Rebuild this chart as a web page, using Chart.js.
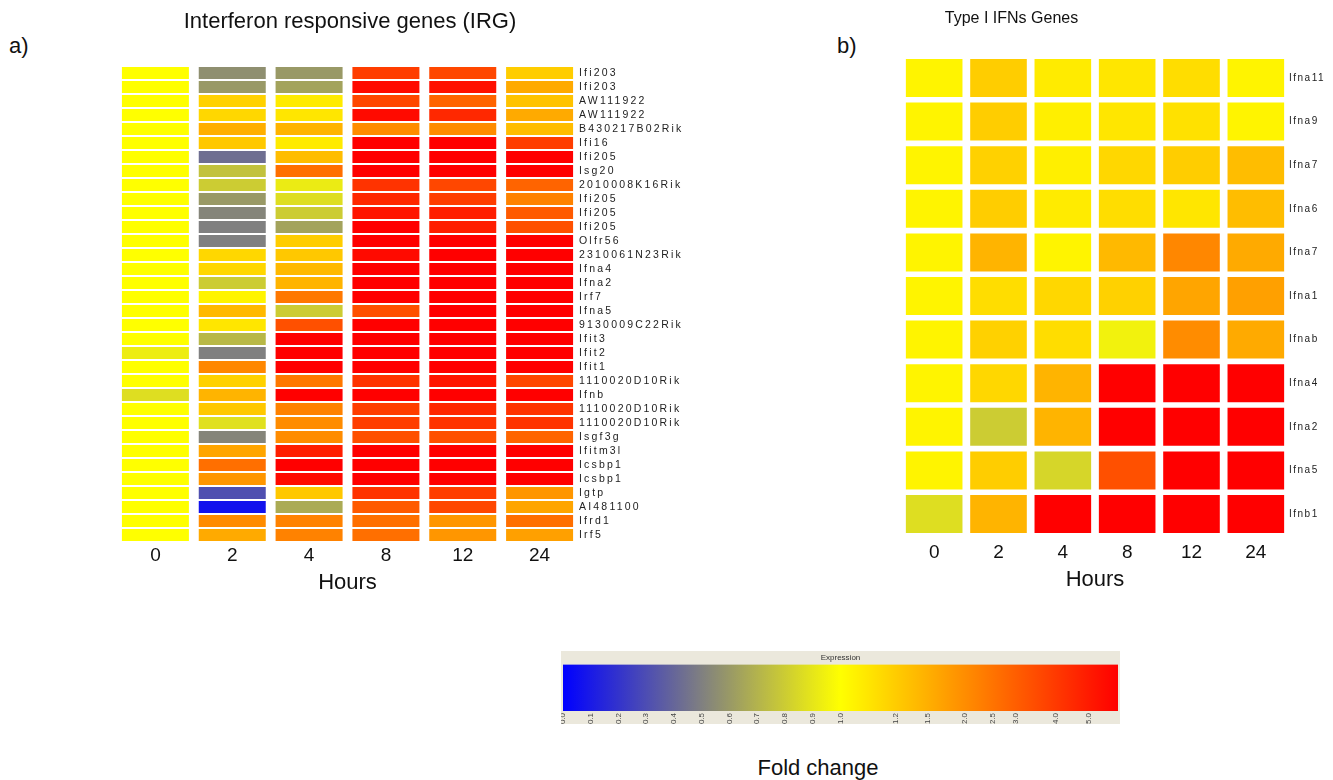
<!DOCTYPE html>
<html>
<head>
<meta charset="utf-8">
<title>IRG and type I IFN heatmaps</title>
<script src="https://cdn.jsdelivr.net/npm/chart.js@4.4.0/dist/chart.umd.min.js"></script>
<style>
  body { margin: 0; background: #fff; font-family: "Liberation Sans", Arial, sans-serif; }
  #page { position: relative; width: 1333px; height: 780px; overflow: hidden; }
  #page canvas { position: absolute; }
  .lbl { position: absolute; font-size: 22px; color: #111; }
  #scaleBox { position: absolute; left: 561px; top: 651px; width: 559px; height: 73px; background: #ebe8dc; }
  #scaleBox canvas { left: 0; top: 0; }
</style>
</head>
<body>
<div id="page">
  <div class="lbl" style="left:9px; top:33px;">a)</div>
  <div class="lbl" style="left:837px; top:33px;">b)</div>
  <canvas id="irg" width="700" height="600" style="left:0; top:0;"></canvas>
  <canvas id="ifn" width="643" height="600" style="left:690px; top:0;"></canvas>
  <div id="scaleBox"><canvas id="scale" width="559" height="73"></canvas></div>
  <div class="lbl" style="left:718px; top:755px; width:200px; text-align:center;">Fold change</div>
</div>
<script>
Chart.defaults.font.family = '"Liberation Sans", Arial, sans-serif';
Chart.defaults.color = '#111';

const hours = ['0', '2', '4', '8', '12', '24'];

// panel a: interferon responsive genes, fold change per time point
const irgGenes = ['Ifi203', 'Ifi203', 'AW111922', 'AW111922', 'B430217B02Rik', 'Ifi16', 'Ifi205', 'Isg20',
  '2010008K16Rik', 'Ifi205', 'Ifi205', 'Ifi205', 'Olfr56', '2310061N23Rik', 'Ifna4', 'Ifna2', 'Irf7', 'Ifna5',
  '9130009C22Rik', 'Ifit3', 'Ifit2', 'Ifit1', '1110020D10Rik', 'Ifnb', '1110020D10Rik', '1110020D10Rik',
  'Isgf3g', 'Ifitm3l', 'Icsbp1', 'Icsbp1', 'Igtp', 'AI481100', 'Ifrd1', 'Irf5'];
const irgFold0h = [1, 1, 1, 1, 1, 1, 1, 1, 1, 1, 1, 1, 1, 1, 1, 1, 1, 1, 1, 1, 0.93, 1, 1, 0.87, 1, 1, 1, 1, 1, 1, 1, 1, 1, 1];
const irgFold2h = [0.56, 0.6, 1.16, 1.12, 1.49, 1.23, 0.43, 0.76, 0.8, 0.6, 0.52, 0.5, 0.5, 1.12, 1.12, 0.8, 1.01, 1.38,
  1.05, 0.72, 0.5, 2.1, 1.16, 1.43, 1.23, 0.88, 0.52, 1.62, 2.6, 1.85, 0.31, 0.07, 2.02, 1.56];
const irgFold4h = [0.6, 0.64, 1.03, 1.05, 1.43, 1.03, 1.33, 2.6, 0.92, 0.87, 0.8, 0.64, 1.19, 1.23, 1.38, 1.43, 2.4, 0.8,
  3.35, 6, 6, 6, 2.4, 6, 2.2, 2.02, 2.02, 4.9, 6, 5.6, 1.23, 0.67, 2.2, 2.2];
const irgFold8h = [3.9, 5.6, 3.6, 5.6, 2.02, 6, 6, 6, 4.2, 4.55, 5.2, 6, 6, 5.6, 6, 6, 6, 3.35,
  6, 6, 6, 6, 4.2, 6, 3.9, 3.9, 3.35, 6, 6, 6, 4.2, 3.1, 2.6, 2.6];
const irgFold12h = [3.6, 5.4, 2.85, 4.55, 2.02, 6, 6, 6, 3.6, 3.9, 4.9, 4.9, 6, 6, 6, 6, 6, 6,
  6, 6, 6, 6, 5.2, 6, 4.55, 4.2, 3.35, 6, 6, 6, 3.9, 3.6, 1.85, 1.85];
const irgFold24h = [1.19, 1.56, 1.28, 1.56, 1.33, 3.9, 6, 6, 2.85, 2.2, 3.1, 3.35, 6, 6, 6, 6, 6, 6,
  6, 6, 6, 6, 3.6, 6, 4.2, 4.2, 2.85, 6, 6, 6, 1.85, 1.62, 2.6, 1.69];

// panel b: type I IFN genes
const ifnGenes = ['Ifna11', 'Ifna9', 'Ifna7', 'Ifna6', 'Ifna7', 'Ifna1', 'Ifnab', 'Ifna4', 'Ifna2', 'Ifna5', 'Ifnb1'];
const ifnFold0h = [1.01, 1.01, 1.01, 1.01, 1.01, 1.01, 1.01, 1.01, 1.01, 1.01, 0.87];
const ifnFold2h = [1.19, 1.19, 1.16, 1.19, 1.43, 1.09, 1.16, 1.12, 0.8, 1.19, 1.43];
const ifnFold4h = [1.03, 1.02, 1.02, 1.03, 1.01, 1.12, 1.09, 1.43, 1.43, 0.84, 6];
const ifnFold8h = [1.05, 1.05, 1.12, 1.09, 1.38, 1.16, 0.95, 6, 6, 3.35, 6];
const ifnFold12h = [1.09, 1.07, 1.19, 1.05, 2.1, 1.62, 2.02, 6, 6, 6, 6];
const ifnFold24h = [1.01, 1.01, 1.33, 1.33, 1.56, 1.69, 1.56, 6, 6, 6, 6];

// colour scale legend
const scaleTicks = [0.0, 0.1, 0.2, 0.3, 0.4, 0.5, 0.6, 0.7, 0.8, 0.9, 1.0, 1.2, 1.5, 2.0, 2.5, 3.0, 4.0, 5.0];
const scaleMax = 6;

// position along the colour bar: linear below 1, square-root stretch above
function foldToPos(v) {
    return v <= 1 ? 10 * v : 10 + Math.sqrt(20 * (v - 1));
}

function colourAtPos(p) {
    p = Math.max(0, Math.min(20, p));
    if (p <= 10) {
        const t = p / 10;
        return `rgb(${Math.round(255 * t)}, ${Math.round(255 * t)}, ${Math.round(255 * (1 - t))})`;
    }
    const t = (p - 10) / 10;
    return `rgb(255, ${Math.round(255 * (1 - t))}, 0)`;
}

const foldColour = v => colourAtPos(foldToPos(v));

// wider spacing for the gene names (drawn in a layer above the datasets)
const letterSpacing = {
    id: 'letterSpacing',
    afterDatasetsDraw(chart, args, opts) {
        chart.ctx.letterSpacing = opts.value || '0px';
    },
    afterDraw(chart) {
        chart.ctx.letterSpacing = '0px';
    }
};

function createHeatmap(id, cfg) {
    const ctx = document.getElementById(id).getContext('2d');
    const gap = cfg.colGap;

    return new Chart(ctx, {
        type: 'bar',
        data: {
            labels: cfg.genes,
            datasets: cfg.series.map((values, k) => ({
                label: hours[k] + ' h',
                data: cfg.genes.map(() => [k + gap, k + 1 - gap]),
                backgroundColor: values.map(foldColour),
                borderWidth: 0,
                grouped: false,
                barPercentage: cfg.rowFill,
                categoryPercentage: 1,
                xAxisID: 'x',
                yAxisID: 'y'
            }))
        },
        options: {
            indexAxis: 'y',
            responsive: false,
            animation: false,
            layout: { padding: { left: 0, right: 0, top: 0, bottom: cfg.bottomPad } },
            plugins: {
                legend: { display: false },
                tooltip: { enabled: false },
                title: {
                    display: true,
                    text: cfg.title,
                    color: '#111',
                    font: { size: cfg.titleSize, weight: 'normal' },
                    padding: cfg.titlePad
                },
                letterSpacing: { value: cfg.labelSpacing }
            },
            scales: {
                x: {
                    type: 'linear',
                    min: 0,
                    max: hours.length,
                    afterBuildTicks: axis => {
                        axis.ticks = hours.map((h, i) => ({ value: i + 0.5 }));
                    },
                    afterFit: axis => { axis.height = cfg.xHeight; },
                    ticks: {
                        autoSkip: false,
                        maxRotation: 0,
                        padding: cfg.tickPad,
                        color: '#111',
                        font: { size: 19 },
                        callback: value => hours[Math.floor(value)]
                    },
                    grid: { display: false, drawTicks: false },
                    border: { display: false },
                    title: {
                        display: true,
                        text: 'Hours',
                        color: '#111',
                        font: { size: 22 },
                        padding: { top: 0, bottom: 4 }
                    }
                },
                y: {
                    position: 'right',
                    afterFit: axis => { axis.width = cfg.labelWidth; },
                    ticks: {
                        autoSkip: false,
                        padding: 1,
                        z: 1,
                        color: '#222',
                        font: { size: cfg.labelSize }
                    },
                    grid: { display: false, drawTicks: false },
                    border: { display: false }
                },
                // empty left axis, only keeps the cells clear of the panel edge
                yPad: {
                    type: 'category',
                    position: 'left',
                    afterFit: axis => { axis.width = cfg.leftSpace; },
                    ticks: { display: false },
                    grid: { display: false, drawTicks: false },
                    border: { display: false }
                }
            }
        },
        plugins: [letterSpacing]
    });
}

createHeatmap('irg', {
    title: 'Interferon responsive genes (IRG)',
    titleSize: 22,
    genes: irgGenes,
    series: [irgFold0h, irgFold2h, irgFold4h, irgFold8h, irgFold12h, irgFold24h],
    colGap: 0.064,
    rowFill: 0.86,
    titlePad: { top: 8.8, bottom: 30.8 },
    leftSpace: 117,
    labelWidth: 122,
    labelSize: 10.5,
    labelSpacing: '2.2px',
    xHeight: 58,
    tickPad: 2,
    bottomPad: 0
});

createHeatmap('ifn', {
    title: 'Type I IFNs Genes',
    titleSize: 16,
    genes: ifnGenes,
    series: [ifnFold0h, ifnFold2h, ifnFold4h, ifnFold8h, ifnFold12h, ifnFold24h],
    colGap: 0.06,
    rowFill: 0.872,
    titlePad: { top: 9.4, bottom: 27.6 },
    leftSpace: 212,
    labelWidth: 45,
    labelSize: 10,
    labelSpacing: '1.5px',
    xHeight: 61.4,
    tickPad: 5.8,
    bottomPad: 2.8
});

// colour bar legend
const scaleEnd = foldToPos(scaleMax);

new Chart(document.getElementById('scale').getContext('2d'), {
    type: 'bar',
    data: {
        labels: ['Expression'],
        datasets: [{
            data: [[0, scaleEnd]],
            borderWidth: 0,
            barPercentage: 1,
            categoryPercentage: 1,
            backgroundColor: c => {
                const chart = c.chart;
                const xs = chart.scales.x;
                if (!chart.chartArea || !xs) return null;
                const g = chart.ctx.createLinearGradient(xs.getPixelForValue(0), 0, xs.getPixelForValue(scaleEnd), 0);
                for (let p = 0; p <= 20; p++) {
                    g.addColorStop(p / 20, colourAtPos(p * scaleEnd / 20));
                }
                return g;
            }
        }]
    },
    options: {
        indexAxis: 'y',
        responsive: false,
        animation: false,
        layout: { padding: { left: 2, right: 2, top: 0, bottom: 0 } },
        plugins: {
            legend: { display: false },
            tooltip: { enabled: false },
            title: {
                display: true,
                text: 'Expression',
                color: '#333',
                font: { size: 8, weight: 'normal' },
                padding: { top: 2, bottom: 2 }
            }
        },
        scales: {
            x: {
                type: 'linear',
                min: 0,
                max: scaleEnd,
                afterBuildTicks: axis => {
                    axis.ticks = scaleTicks.map(v => ({ value: foldToPos(v) }));
                },
                afterFit: axis => {
                    axis.height = 13;
                    axis.paddingLeft = 0;
                    axis.paddingRight = 0;
                },
                ticks: {
                    autoSkip: false,
                    minRotation: 90,
                    maxRotation: 90,
                    padding: 2,
                    color: '#444',
                    font: { size: 8 },
                    callback: (value, i) => scaleTicks[i].toFixed(1)
                },
                grid: { display: false, drawTicks: false },
                border: { display: false }
            },
            y: { display: false }
        }
    }
});
</script>
</body>
</html>
